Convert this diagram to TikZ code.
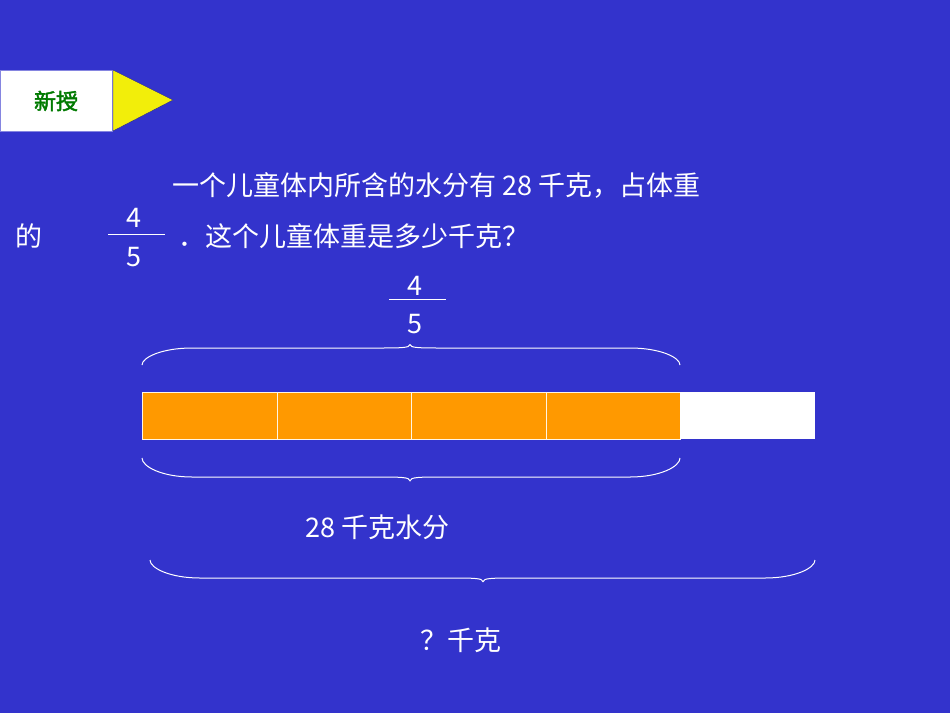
\documentclass[tikz,border=0pt]{standalone}
\usepackage{fontspec}
\setmainfont{Noto Sans CJK SC}
\newfontfamily\cjkb{Noto Sans CJK SC}[FakeBold=2]
\definecolor{bg}{HTML}{3333CC}
\definecolor{orng}{HTML}{FF9900}
\definecolor{grn}{HTML}{007A00}
\definecolor{ylw}{HTML}{F2EE0A}
\tikzset{txt/.style={text=white,font=\fontsize{27pt}{30pt}\selectfont,inner sep=0pt,anchor=base west},
 brc/.style={draw=white,line width=1pt},
 cell/.style={draw=white!90!orng,line width=0.8pt,fill=orng}}
\newcommand{\mybrace}[5]{\draw[brc] ({#1},{#4}) .. controls ({#1},{#4+0.45*(#5-#4)}) and ({#1+20},{#5}) .. ({#1+50},{#5}) -- ({#3-35},{#5}) .. controls ({#3-10},{#5}) and ({#3},{#5}) .. ({#3},{#4+1.2*(#5-#4)}) .. controls ({#3},{#5}) and ({#3+10},{#5}) .. ({#3+35},{#5}) -- ({#2-50},{#5}) .. controls ({#2-20},{#5}) and ({#2},{#4+0.45*(#5-#4)}) .. ({#2},{#4});}
\begin{document}
\begin{tikzpicture}[x=1pt,y=-1pt]
\fill[bg] (0,0) rectangle (950,713);
\useasboundingbox (0,0) rectangle (950,713);
\node[draw=bg!60!white,fill=white,minimum width=112pt,minimum height=61pt,inner sep=0pt,anchor=north west] (badge) at (0,70) {};
\node[text=grn,font=\cjkb\fontsize{22pt}{24pt}\selectfont] (badgetxt) at (56,101) {新授};
\fill[ylw,draw=bg!70!black] (113,70) -- (173,100) -- (113,131) -- cycle;
\node[txt] (l1) at (172,195) {一个儿童体内所含的水分有 28 千克，占体重};
\node[txt] (l2a) at (15,246) {的};
\node[txt] (f1n) at (126,227) {4};
\draw[white,line width=1pt] (108,234) -- (165,234);
\node[txt] (f1d) at (126,266) {5};
\node[txt] (l2b) at (178,246) {．这个儿童体重是多少千克？};
\node[txt] (f2n) at (407,295) {4};
\draw[white,line width=1pt] (389,299) -- (446,299);
\node[txt] (f2d) at (407,333) {5};
\mybrace{142}{680}{410}{365}{348}
\node[cell,minimum width=134.5pt,minimum height=47pt,inner sep=0pt,anchor=north west] (c1) at (142,392) {};
\node[cell,minimum width=134.5pt,minimum height=47pt,inner sep=0pt,anchor=north west] (c2) at (276.5,392) {};
\node[cell,minimum width=134.5pt,minimum height=47pt,inner sep=0pt,anchor=north west] (c3) at (411,392) {};
\node[cell,minimum width=134.5pt,minimum height=47pt,inner sep=0pt,anchor=north west] (c4) at (545.5,392) {};
\node[fill=white,minimum width=135pt,minimum height=47pt,inner sep=0pt,anchor=north west] (c5) at (680,392) {};
\mybrace{142}{680}{410}{458}{477}
\node[txt] (w) at (305,537) {28 千克水分};
\mybrace{150}{815}{483}{560}{578}
\node[txt] (q) at (420,650) {？千克};
\end{tikzpicture}
\end{document}
